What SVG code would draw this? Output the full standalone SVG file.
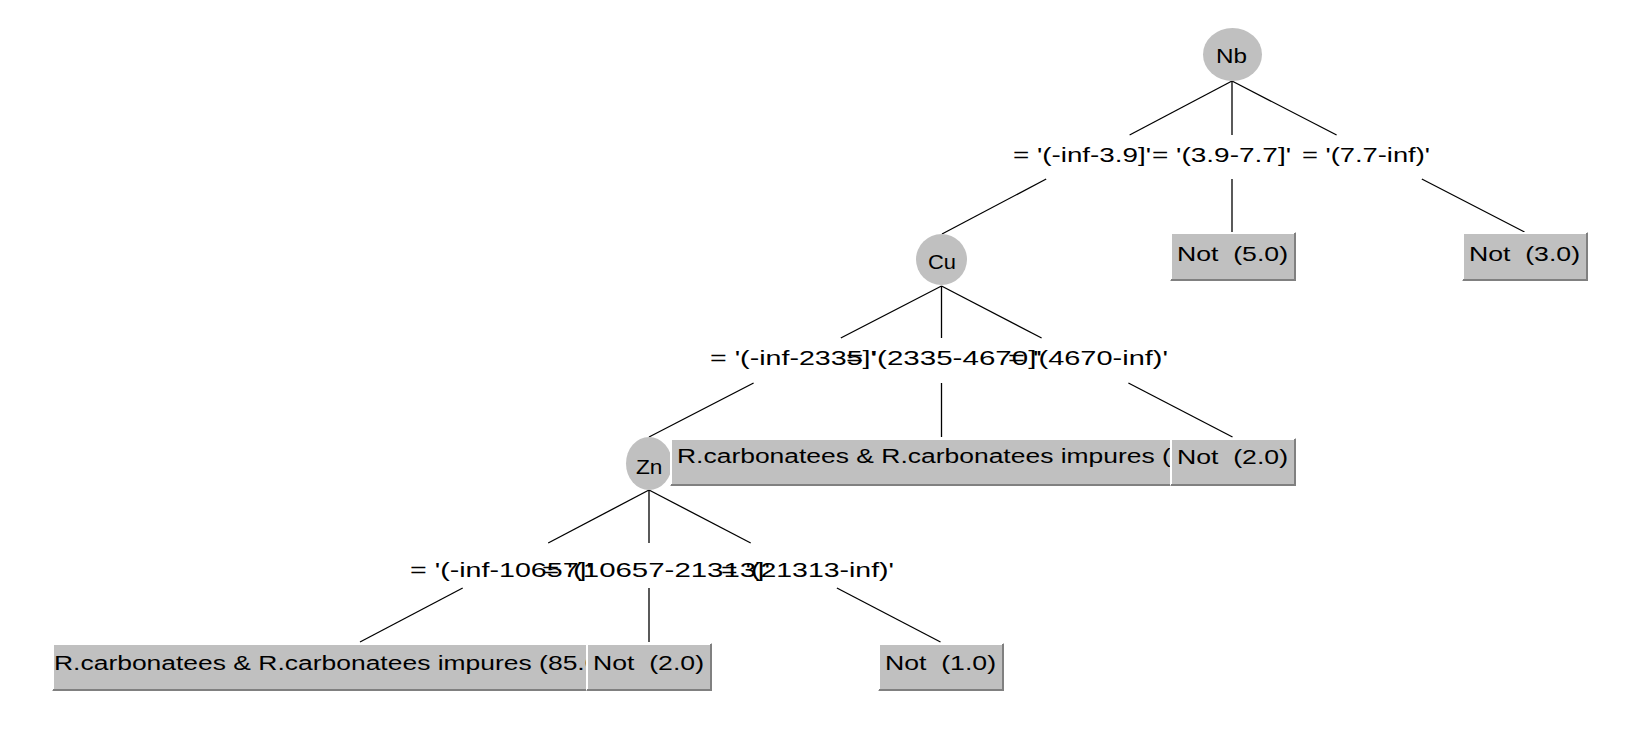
<svg xmlns="http://www.w3.org/2000/svg" width="1626" height="742" viewBox="0 0 1626 742">
<style>
.bg{fill:#ffffff}
.node{fill:#c0c0c0}
.leaf{fill:#c0c0c0}
.hl{fill:none;stroke:#ffffff;stroke-width:2}
.sh{fill:none;stroke:#808080;stroke-width:2}
.edge{stroke:#000000;stroke-width:1.3;fill:none}
text{font-family:"Liberation Sans",Arial,sans-serif;font-size:21px;fill:#000000;white-space:pre}
</style>
<rect class="bg" x="0" y="0" width="1626" height="742"/>

<g id="connectors">
  <line class="edge" x1="1232" y1="81" x2="1129.6" y2="135"/>
  <line class="edge" x1="1046.2" y1="179" x2="942" y2="234"/>
  <line class="edge" x1="1232" y1="81" x2="1232" y2="135"/>
  <line class="edge" x1="1232" y1="179" x2="1232" y2="232"/>
  <line class="edge" x1="1232" y1="81" x2="1336.6" y2="135"/>
  <line class="edge" x1="1421.8" y1="179" x2="1524.5" y2="232"/>
  <text x="1013" y="162" textLength="138" lengthAdjust="spacingAndGlyphs">= '(-inf-3.9]'</text>
  <text x="1152" y="162" textLength="139" lengthAdjust="spacingAndGlyphs">= '(3.9-7.7]'</text>
  <text x="1302" y="162" textLength="128" lengthAdjust="spacingAndGlyphs">= '(7.7-inf)'</text>

  <line class="edge" x1="941.5" y1="286" x2="840.8" y2="338"/>
  <line class="edge" x1="753.6" y1="383" x2="649" y2="437"/>
  <line class="edge" x1="941.5" y1="286" x2="941.5" y2="338"/>
  <line class="edge" x1="941.5" y1="383" x2="941.5" y2="437"/>
  <line class="edge" x1="941.5" y1="286" x2="1041.6" y2="338"/>
  <line class="edge" x1="1128.4" y1="383" x2="1232.5" y2="437"/>
  <text x="710" y="365" textLength="166" lengthAdjust="spacingAndGlyphs">= '(-inf-2335]'</text>
  <text x="846" y="365" textLength="196" lengthAdjust="spacingAndGlyphs">= '(2335-4670]'</text>
  <text x="1008" y="365" textLength="160" lengthAdjust="spacingAndGlyphs">= '(4670-inf)'</text>

  <line class="edge" x1="649" y1="490" x2="548.2" y2="543"/>
  <line class="edge" x1="462.7" y1="588" x2="360" y2="642"/>
  <line class="edge" x1="649" y1="490" x2="649" y2="543"/>
  <line class="edge" x1="649" y1="588" x2="649" y2="642"/>
  <line class="edge" x1="649" y1="490" x2="750.7" y2="543"/>
  <line class="edge" x1="836.9" y1="588" x2="940.5" y2="642"/>
  <text x="410" y="577" textLength="182" lengthAdjust="spacingAndGlyphs">= '(-inf-10657]'</text>
  <text x="542" y="577" textLength="228" lengthAdjust="spacingAndGlyphs">= '(10657-21313]'</text>
  <text x="721" y="577" textLength="173" lengthAdjust="spacingAndGlyphs">= '(21313-inf)'</text>
</g>

<g id="node-Nb">
  <ellipse class="node" cx="1232.5" cy="54.5" rx="29.5" ry="26.5"/>
  <text x="1216" y="63" textLength="31" lengthAdjust="spacingAndGlyphs">Nb</text>
</g>
<g id="leaf-not-5">
  <rect class="leaf" x="1170" y="232" width="126" height="49"/>
  <path class="hl" d="M1171,280V233H1295"/>
  <path class="sh" d="M1171,280H1295V233"/>
  <text x="1177" y="261" textLength="111" lengthAdjust="spacingAndGlyphs">Not  (5.0)</text>
</g>
<g id="leaf-not-3">
  <rect class="leaf" x="1462" y="232" width="126" height="49"/>
  <path class="hl" d="M1463,280V233H1587"/>
  <path class="sh" d="M1463,280H1587V233"/>
  <text x="1469" y="261" textLength="111" lengthAdjust="spacingAndGlyphs">Not  (3.0)</text>
</g>
<g id="node-Cu">
  <ellipse class="node" cx="941.5" cy="259.5" rx="25.5" ry="25.5"/>
  <text x="928" y="269" textLength="28" lengthAdjust="spacingAndGlyphs">Cu</text>
</g>
<g id="node-Zn">
  <ellipse class="node" cx="649" cy="463.5" rx="23" ry="26.5"/>
  <text x="636" y="474" textLength="26.5" lengthAdjust="spacingAndGlyphs">Zn</text>
</g>
<g id="leaf-rcarb-1">
  <rect class="leaf" x="670" y="438" width="542" height="48"/>
  <path class="hl" d="M671,485V439H1211"/>
  <path class="sh" d="M671,485H1211V439"/>
  <text transform="translate(677,463) scale(1.26,1)">R.carbonatees &amp; R.carbonatees impures (0</text>
</g>
<g id="leaf-not-2a">
  <rect class="leaf" x="1170" y="438" width="126" height="48"/>
  <path class="hl" d="M1171,485V439H1295"/>
  <path class="sh" d="M1171,485H1295V439"/>
  <text x="1177" y="464" textLength="111" lengthAdjust="spacingAndGlyphs">Not  (2.0)</text>
</g>
<g id="leaf-rcarb-2">
  <rect class="leaf" x="52" y="643" width="616" height="48"/>
  <path class="hl" d="M53,690V644H667"/>
  <path class="sh" d="M53,690H667V644"/>
  <text transform="translate(54,670) scale(1.26,1)">R.carbonatees &amp; R.carbonatees impures (85.0</text>
</g>
<g id="leaf-not-2b">
  <rect class="leaf" x="586" y="643" width="126" height="48"/>
  <path class="hl" d="M587,690V644H711"/>
  <path class="sh" d="M587,690H711V644"/>
  <text x="593" y="670" textLength="111" lengthAdjust="spacingAndGlyphs">Not  (2.0)</text>
</g>
<g id="leaf-not-1">
  <rect class="leaf" x="878" y="643" width="126" height="48"/>
  <path class="hl" d="M879,690V644H1003"/>
  <path class="sh" d="M879,690H1003V644"/>
  <text x="885" y="670" textLength="111" lengthAdjust="spacingAndGlyphs">Not  (1.0)</text>
</g>
</svg>
